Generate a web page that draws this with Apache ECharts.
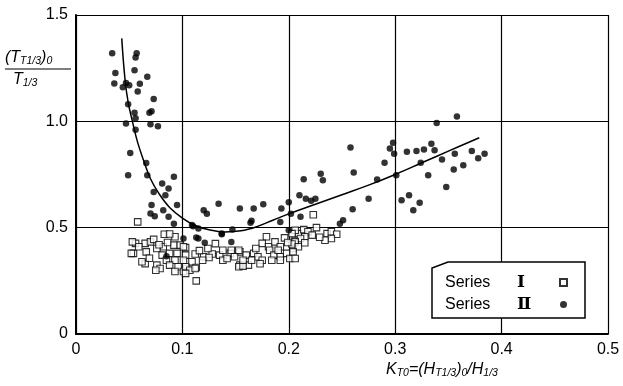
<!DOCTYPE html>
<html>
<head>
<meta charset="utf-8">
<script src="https://cdn.jsdelivr.net/npm/echarts@6/dist/echarts.min.js"></script>
<style>
  html, body { margin: 0; padding: 0; background: #fff; }
  #chart { width: 623px; height: 386px; }
</style>
</head>
<body>
<div id="chart"></div>
<script>
// Axis ticks
const xTicks = [0, 0.1, 0.2, 0.3, 0.4, 0.5];
const yTicks = [0, 0.5, 1.0, 1.5];

// Series I: open squares [K_T0, (T_T1/3)0 / T_1/3]
const seriesI = [
  [0.083,0.469],[0.093,0.457],[0.065,0.426],[0.056,0.426],[0.070,0.433],[0.054,0.379],
  [0.059,0.410],[0.066,0.386],[0.082,0.410],[0.092,0.418],[0.098,0.418],[0.103,0.406],
  [0.076,0.402],[0.081,0.371],[0.088,0.379],[0.095,0.379],[0.103,0.371],[0.112,0.376],
  [0.120,0.363],[0.128,0.376],[0.135,0.371],[0.145,0.379],[0.154,0.386],[0.160,0.371],
  [0.167,0.379],[0.171,0.363],[0.085,0.347],[0.093,0.347],[0.101,0.347],[0.109,0.340],
  [0.138,0.347],[0.065,0.331],[0.076,0.324],[0.079,0.308],[0.088,0.324],[0.096,0.316],
  [0.104,0.308],[0.113,0.313],[0.093,0.294],[0.101,0.294],[0.154,0.324],[0.162,0.324],
  [0.113,0.250],[0.058,0.527],[0.053,0.433],[0.052,0.379],[0.075,0.300],[0.062,0.340],
  [0.179,0.457],[0.175,0.426],[0.181,0.410],[0.187,0.433],[0.192,0.410],[0.206,0.441],
  [0.209,0.472],[0.101,0.410],[0.103,0.316],[0.107,0.300],[0.103,0.285],[0.112,0.308],
  [0.138,0.394],[0.146,0.394],[0.153,0.394],[0.182,0.394],[0.186,0.371],[0.190,0.394],
  [0.192,0.363],[0.198,0.379],[0.184,0.347],[0.192,0.347],[0.204,0.402],[0.201,0.355],
  [0.153,0.316],[0.157,0.319],[0.149,0.363],[0.157,0.347],[0.165,0.347],[0.175,0.347],
  [0.131,0.425],[0.125,0.360],[0.119,0.347],[0.223,0.561],[0.226,0.500],[0.214,0.491],
  [0.206,0.488],[0.203,0.472],[0.218,0.481],[0.222,0.465],[0.215,0.457],[0.211,0.449],
  [0.206,0.433],[0.203,0.423],[0.209,0.410],[0.204,0.386],[0.206,0.355],[0.215,0.429],
  [0.236,0.472],[0.240,0.481],[0.245,0.469],[0.240,0.449],[0.234,0.441],[0.229,0.455],
  [0.073,0.445],[0.078,0.420],[0.086,0.430],[0.116,0.392],[0.124,0.402],[0.142,0.355],
  [0.169,0.402],[0.173,0.330],[0.196,0.452],[0.199,0.430],[0.088,0.470],[0.069,0.356]
];

// Series II: filled circles
const seriesII = [
  [0.034,1.320],[0.057,1.320],[0.056,1.300],[0.037,1.227],[0.055,1.240],[0.067,1.210],
  [0.036,1.178],[0.044,1.160],[0.047,1.180],[0.050,1.170],[0.060,1.177],[0.058,1.140],
  [0.073,1.105],[0.049,1.080],[0.055,1.040],[0.069,1.040],[0.071,1.048],[0.047,0.990],
  [0.056,1.015],[0.070,0.986],[0.077,0.977],[0.056,0.961],[0.051,0.851],[0.049,0.746],
  [0.066,0.804],[0.067,0.746],[0.092,0.739],[0.081,0.708],[0.087,0.684],[0.073,0.668],
  [0.084,0.653],[0.071,0.606],[0.095,0.606],[0.082,0.582],[0.070,0.567],[0.074,0.554],
  [0.087,0.551],[0.092,0.519],[0.110,0.507],
  [0.134,0.613],[0.154,0.590],[0.167,0.590],[0.176,0.610],[0.193,0.590],[0.200,0.620],
  [0.120,0.582],[0.123,0.566],[0.109,0.512],[0.115,0.496],[0.137,0.472],[0.147,0.491],
  [0.164,0.523],[0.101,0.449],[0.115,0.449],[0.121,0.429],[0.146,0.433],[0.200,0.488],
  [0.192,0.527],[0.202,0.566],[0.211,0.551],[0.165,0.533],[0.248,0.519],[0.251,0.535],
  [0.085,0.366],[0.113,0.454],[0.137,0.469],
  [0.258,0.877],[0.298,0.899],[0.295,0.872],[0.299,0.848],[0.311,0.857],[0.320,0.861],
  [0.327,0.867],[0.334,0.895],[0.337,0.864],[0.344,0.820],[0.290,0.805],[0.324,0.805],
  [0.261,0.759],[0.230,0.754],[0.232,0.723],[0.214,0.728],[0.283,0.726],[0.301,0.746],
  [0.331,0.746],[0.348,0.691],[0.210,0.653],[0.216,0.636],[0.221,0.626],[0.225,0.636],
  [0.275,0.636],[0.306,0.629],[0.313,0.653],[0.323,0.617],[0.317,0.582],[0.260,0.587],
  [0.358,1.023],[0.339,0.992],[0.356,0.848],[0.372,0.861],[0.378,0.826],[0.384,0.848],
  [0.355,0.773],[0.364,0.793]
];

// Fitted trend curve
const fitCurve = [
  [0.043,1.39],[0.046,1.20],[0.049,1.09],[0.053,1.00],[0.058,0.90],[0.064,0.81],
  [0.070,0.73],[0.078,0.66],[0.088,0.595],[0.100,0.545],[0.112,0.510],[0.125,0.490],
  [0.140,0.480],[0.155,0.485],[0.170,0.505],[0.185,0.535],[0.200,0.565],[0.225,0.610],
  [0.250,0.655],[0.275,0.700],[0.300,0.750],[0.325,0.805],[0.350,0.860],[0.379,0.923]
];

const fontFamily = '"Liberation Sans", Arial, sans-serif';
const serifFamily = '"Liberation Serif", "DejaVu Serif", serif';
const chart = echarts.init(document.getElementById('chart'), null, { renderer: 'canvas' });

const fmt = v => (v === 0 ? '0' : v.toFixed(1));

const subRich = {
  i: { fontSize: 16, fontStyle: 'italic', fontFamily, fill: '#000' },
  s: { fontSize: 10.5, fontStyle: 'italic', fontFamily, fill: '#000', padding: [7, 0, 0, 0] }
};

chart.setOption({
  animation: false,
  backgroundColor: '#fff',
  grid: { left: 76, right: 15, top: 15, bottom: 52, containLabel: false },
  xAxis: {
    type: 'value',
    min: xTicks[0], max: xTicks[xTicks.length - 1], interval: 0.1,
    axisLine: { show: true, lineStyle: { color: '#000', width: 2 } },
    axisTick: { show: false },
    splitLine: { show: true, lineStyle: { color: '#000', width: 1.2 } },
    axisLabel: { formatter: fmt, color: '#000', fontSize: 16, fontFamily, margin: 8 }
  },
  yAxis: {
    type: 'value',
    min: yTicks[0], max: yTicks[yTicks.length - 1], interval: 0.5,
    axisLine: { show: true, lineStyle: { color: '#000', width: 2 } },
    axisTick: { show: false },
    splitLine: { show: true, lineStyle: { color: '#000', width: 1.2 } },
    axisLabel: { formatter: fmt, color: '#000', fontSize: 16, fontFamily, margin: 8 }
  },
  legend: {
    orient: 'vertical',
    left: 445, top: 274,
    padding: 0,
    align: 'right',
    itemGap: 5,
    itemWidth: 7, itemHeight: 7,
    formatter: name => {
      const [word, num] = name.split(' ');
      return '{w|' + word + '}{n|' + num + '}';
    },
    textStyle: {
      color: '#000',
      rich: {
        w: { fontSize: 16, fontFamily, color: '#000', width: 72, align: 'left' },
        n: { fontSize: 17, fontFamily: serifFamily, fontWeight: 'bold', color: '#000', width: 38, align: 'left' }
      }
    },
    data: ['Series Ⅰ', 'Series Ⅱ'],
    z: 10
  },
  graphic: [
    {
      type: 'polygon', z: 8,
      shape: { points: [[448, 262], [585, 262], [585, 318], [432, 318], [432, 268]] },
      style: { fill: '#fff', stroke: '#000', lineWidth: 1.5 }
    },
    {
      type: 'text', left: 5, top: 50,
      style: { text: '{i|(T}{s|T1/3}{i|)}{s|0}', rich: subRich }
    },
    {
      type: 'line',
      shape: { x1: 5, y1: 69, x2: 71, y2: 69 },
      style: { stroke: '#000', lineWidth: 1.2 }
    },
    {
      type: 'text', left: 13, top: 72,
      style: { text: '{i|T}{s|1/3}', rich: subRich }
    },
    {
      type: 'text', left: 386, top: 362,
      style: { text: '{i|K}{s|T0}{i|=(H}{s|T1/3}{i|)}{s|0}{i|/H}{s|1/3}', rich: subRich }
    }
  ],
  series: [
    {
      name: 'Series Ⅰ',
      type: 'scatter',
      data: seriesI,
      symbol: 'rect',
      symbolSize: 6.5,
      itemStyle: { color: '#fff', borderColor: '#000', borderWidth: 1.1 },
      z: 3
    },
    {
      name: 'Series Ⅱ',
      type: 'scatter',
      data: seriesII,
      symbol: 'circle',
      symbolSize: 6.5,
      itemStyle: { color: '#000' },
      z: 4
    },
    {
      name: 'fit',
      type: 'line',
      data: fitCurve,
      smooth: 0.4,
      showSymbol: false,
      symbol: 'none',
      lineStyle: { color: '#000', width: 1.5 },
      z: 5
    }
  ]
});
</script>
</body>
</html>
